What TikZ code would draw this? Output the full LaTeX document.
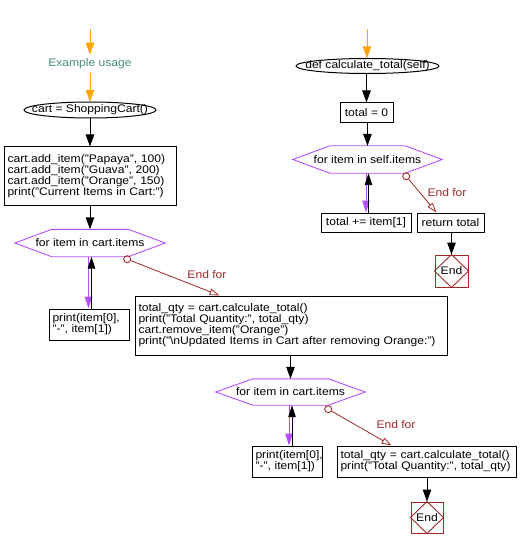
\documentclass[tikz,border=0pt]{standalone}
\usepackage{fontspec}
\setmainfont{Liberation Sans}[FakeStretch=1.1]
\usetikzlibrary{arrows.meta}
\definecolor{flowor}{RGB}{255,165,0}
\definecolor{loopcol}{RGB}{180,80,255}
\definecolor{endcol}{RGB}{160,40,40}
\definecolor{notecol}{RGB}{70,140,120}
% frames drawn round named nodes
\newcommand{\hexframe}[1]{\draw[loopcol,line width=0.9pt] (#1.west) -- ([xshift=37pt]#1.north west) -- ([xshift=-37pt]#1.north east) -- (#1.east) -- ([xshift=-37pt]#1.south east) -- ([xshift=37pt]#1.south west) -- cycle;}
\newcommand{\stopframe}[1]{\draw[endcol,line width=0.9pt] (#1.north) -- (#1.east) -- (#1.south) -- (#1.west) -- cycle;}
\begin{document}
\begin{tikzpicture}[x=1pt, y=-1pt, every node/.style={font=\fontsize{11}{11}\selectfont, inner sep=0pt},
  arr/.style={-{Triangle[length=12pt,width=8.5pt]},line width=1pt},
  oarr/.style={arr,flowor},
  loopin/.style={-{Triangle[length=12pt,width=7.5pt]},line width=1pt,loopcol},
  loopback/.style={-{Triangle[length=12pt,width=7.5pt]},line width=1pt},
  endarr/.style={-{Triangle[open,length=10pt,width=6.5pt]},line width=0.8pt,endcol},
  stmt/.style={draw,line width=1pt,align=left,inner xsep=3.5pt},
  forbox/.style={minimum height=27pt},
  endbox/.style={draw=endcol,line width=1pt,minimum width=32pt,minimum height=31pt},
  ring/.style={circle,draw=endcol,line width=0.9pt,minimum size=7pt},
  endtxt/.style={text=endcol}]
  \useasboundingbox (0,0) rectangle (520,548);
  % main program
  \coordinate (s1) at (90,29);
  \node[text=notecol,inner sep=4pt] (lbl1) at (90,64) {Example usage};
  \node[minimum width=132pt,minimum height=16pt] (e1) at (90,110) {cart = ShoppingCart()};
  \draw[line width=1pt] (e1.center) ellipse [x radius=66pt, y radius=8pt];
  \node[stmt,text width=165pt,minimum height=58pt] (b1) at (90,176) {cart.add\_item("Papaya", 100)\\cart.add\_item("Guava", 200)\\cart.add\_item("Orange", 150)\\print("Current Items in Cart:")};
  \node[forbox,minimum width=150pt] (h1) at (90,243) {for item in cart.items};
  \hexframe{h1}
  \node[stmt,text width=73pt,minimum height=31pt] (p1) at (89,324.5) {print(item[0],\\"-", item[1])};
  \node[ring] (c1) at ([xshift=-38pt,yshift=-2.5pt]h1.south east) {};
  \node[endtxt] (ef1) at (207,275) {End for};
  \node[stmt,text width=305pt,minimum height=59pt] (b2) at (291,325.5) {total\_qty = cart.calculate\_total()\\print("Total Quantity:", total\_qty)\\cart.remove\_item("Orange")\\print("\textbackslash nUpdated Items in Cart after removing Orange:")};
  \node[forbox,minimum width=149pt,minimum height=26pt] (h2) at (290.5,392) {for item in cart.items};
  \hexframe{h2}
  \node[stmt,text width=63pt,minimum height=31pt] (p2) at (287,461.5) {print(item[0],\\"-", item[1])};
  \node[ring] (c2) at ([xshift=-37pt,yshift=-4pt]h2.south east) {};
  \node[endtxt] (ef2) at (396,425) {End for};
  \node[stmt,text width=172pt,minimum height=31pt] (b3) at (426.5,461.5) {total\_qty = cart.calculate\_total()\\print("Total Quantity:", total\_qty)};
  \node[endbox] (end1) at (427,517.5) {End};
  \stopframe{end1}
  % calculate_total
  \coordinate (s2) at (367,29);
  \node[minimum width=143pt,minimum height=15pt] (e2) at (367.5,66) {def calculate\_total(self)};
  \draw[line width=1pt] (e2.center) ellipse [x radius=71.5pt, y radius=7.5pt];
  \node[stmt,minimum width=53pt,minimum height=20pt] (t0) at (366.5,113) {total = 0};
  \node[forbox,minimum width=149pt] (h3) at (367.5,159.5) {for item in self.items};
  \hexframe{h3}
  \node[stmt,minimum width=90pt,minimum height=19pt] (ti) at (366,222.5) {total += item[1]};
  \node[ring] (c3) at ([xshift=-36pt,yshift=-3pt]h3.south east) {};
  \node[endtxt] (ef3) at (447,193) {End for};
  \node[stmt,minimum width=67pt,minimum height=19pt] (rt) at (450.5,222.5) {return total};
  \node[endbox,minimum width=33pt,minimum height=32pt] (end2) at (451.5,271) {End};
  \stopframe{end2}
  % Flow steps
  \draw[oarr] (s1) -- (lbl1);
  \draw[oarr] (lbl1) -- (e1);
  \draw[arr] (e1) -- (b1);
  \draw[arr] (b1) -- (h1);
  \draw[loopin] ([xshift=-1.5pt]h1.south) -- ([xshift=-1.5pt]h1.south |- p1.north);
  \draw[loopback] ([xshift=1.5pt]h1.south |- p1.north) -- ([xshift=1.5pt]h1.south);
  \draw[endarr] (c1) -- ([xshift=85pt]b2.north west);
  \draw[arr] (b2.south -| h2.north) -- (h2.north);
  \draw[loopin] ([xshift=-1.5pt]h2.south) -- ([xshift=-1.5pt]h2.south |- p2.north);
  \draw[loopback] ([xshift=1.5pt]h2.south |- p2.north) -- ([xshift=1.5pt]h2.south);
  \draw[endarr] (c2) -- ([xshift=55pt]b3.north west);
  \draw[arr] (end1.north |- b3.south) -- (end1.north);
  \draw[oarr] (s2) -- (e2.north -| s2);
  \draw[arr] (e2.south -| t0.north) -- (t0.north);
  \draw[arr] (t0.south -| h3.north) -- (h3.north);
  \draw[loopin] ([xshift=-1.5pt]h3.south) -- ([xshift=-1.5pt]h3.south |- ti.north);
  \draw[loopback] ([xshift=1pt]h3.south |- ti.north) -- ([xshift=1pt]h3.south);
  \draw[endarr] (c3) -- ([xshift=20pt]rt.north west);
  \draw[arr] (end2.north |- rt.south) -- (end2.north);
\end{tikzpicture}
\end{document}
